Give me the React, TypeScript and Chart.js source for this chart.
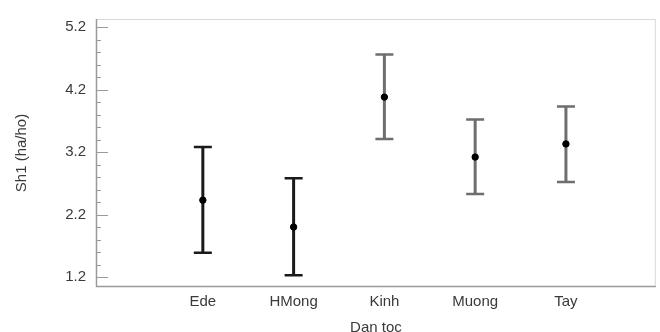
import React, { useEffect, useRef } from "react";
import { Chart, registerables } from "chart.js";
Chart.register(...registerables);

const categories = ["Ede", "HMong", "Kinh", "Muong", "Tay"];
const means = [2.43, 2.0, 4.08, 3.12, 3.33];
const upper = [3.28, 2.78, 4.76, 3.72, 3.93];
const lower = [1.59, 1.23, 3.41, 2.53, 2.72];
const yTicks = [1.2, 2.2, 3.2, 4.2, 5.2];

const barColors = ["#1a1a1a", "#1a1a1a", "#6e6e6e", "#6e6e6e", "#6e6e6e"];
const textColor = "#3a3a3a";
const font = { family: "Liberation Sans", size: 15 };

const errorBarPlugin = {
  id: "errorBars",
  beforeDatasetsDraw(chart: any) {
    const { ctx, scales, chartArea } = chart;
    const xs = scales.x;
    const ys = scales.y;
    ctx.save();
    // frame
    ctx.strokeStyle = "#d8d8d8";
    ctx.lineWidth = 1;
    ctx.beginPath();
    ctx.moveTo(chartArea.left, chartArea.top + 0.5);
    ctx.lineTo(chartArea.right - 0.5, chartArea.top + 0.5);
    ctx.lineTo(chartArea.right - 0.5, chartArea.bottom);
    ctx.stroke();
    ctx.strokeStyle = "#9a9a9a";
    ctx.lineWidth = 1.5;
    ctx.beginPath();
    ctx.moveTo(chartArea.left + 0.5, chartArea.top);
    ctx.lineTo(chartArea.left + 0.5, chartArea.bottom - 0.5);
    ctx.lineTo(chartArea.right, chartArea.bottom - 0.5);
    ctx.stroke();
    // inward ticks
    ctx.strokeStyle = "#9a9a9a";
    ctx.lineWidth = 1;
    for (let i = 0; i <= 20; i++) {
      const v = 1.2 + i * 0.2;
      const py = Math.round(ys.getPixelForValue(v)) + 0.5;
      const major = i % 5 === 0;
      ctx.beginPath();
      ctx.moveTo(chartArea.left, py);
      ctx.lineTo(chartArea.left + (major ? 12 : 5), py);
      ctx.stroke();
    }
    // error bars
    categories.forEach((_, i) => {
      const px = xs.getPixelForValue(i + 1);
      const pu = ys.getPixelForValue(upper[i]);
      const pl = ys.getPixelForValue(lower[i]);
      ctx.strokeStyle = barColors[i];
      ctx.lineWidth = 3;
      ctx.beginPath();
      ctx.moveTo(px, pu);
      ctx.lineTo(px, pl);
      ctx.stroke();
      ctx.lineWidth = 2.5;
      ctx.beginPath();
      ctx.moveTo(px - 9, pu);
      ctx.lineTo(px + 9, pu);
      ctx.moveTo(px - 9, pl);
      ctx.lineTo(px + 9, pl);
      ctx.stroke();
    });
    ctx.restore();
  },
};

export default function App() {
  const ref = useRef<HTMLCanvasElement>(null);
  useEffect(() => {
    if (!ref.current) return;
    const chart = new Chart(ref.current, {
      type: "scatter",
      data: {
        datasets: [
          {
            data: means.map((m, i) => ({ x: i + 1, y: m })),
            backgroundColor: "#000",
            borderColor: "#000",
            pointRadius: 3.2,
            pointHoverRadius: 3.2,
          },
        ],
      },
      options: {
        animation: false,
        responsive: false,
        maintainAspectRatio: false,
        layout: { padding: { top: 18, right: 3, left: 0, bottom: 0 } },
        plugins: { legend: { display: false }, tooltip: { enabled: false } },
        scales: {
          x: {
            type: "linear",
            min: -0.177,
            max: 5.99,
            afterBuildTicks: (s: any) => {
              s.ticks = categories.map((_, i) => ({ value: i + 1 }));
            },
            afterFit: (s: any) => {
              s.height = 45;
            },
            grid: { display: false, drawTicks: false },
            border: { display: false },
            ticks: {
              padding: 6,
              autoSkip: false,
              maxRotation: 0,
              color: textColor,
              font,
              callback: (v: any) => categories[Math.round(Number(v)) - 1] ?? "",
            },
            title: {
              display: true,
              text: "Dan toc",
              color: textColor,
              font,
              padding: { top: 0, bottom: -5 },
            },
          },
          y: {
            type: "linear",
            min: 1.04,
            max: 5.33,
            afterBuildTicks: (s: any) => {
              s.ticks = yTicks.map((v) => ({ value: v }));
            },
            afterFit: (s: any) => {
              s.width = 96;
            },
            grid: { display: false, drawTicks: false },
            border: { display: false },
            ticks: {
              padding: 10,
              color: textColor,
              font,
              callback: (v: any) => Number(v).toFixed(1),
            },
            title: {
              display: true,
              text: "Sh1 (ha/ho)",
              color: textColor,
              font,
              padding: { top: 13, bottom: 0 },
            },
          },
        },
      },
      plugins: [errorBarPlugin],
    });
    return () => chart.destroy();
  }, []);
  return (
    <div style={{ position: "fixed", left: 0, top: 0, width: 660, height: 332, background: "#fff" }}>
      <canvas ref={ref} width={660} height={332} style={{ width: 660, height: 332 }} />
    </div>
  );
}
